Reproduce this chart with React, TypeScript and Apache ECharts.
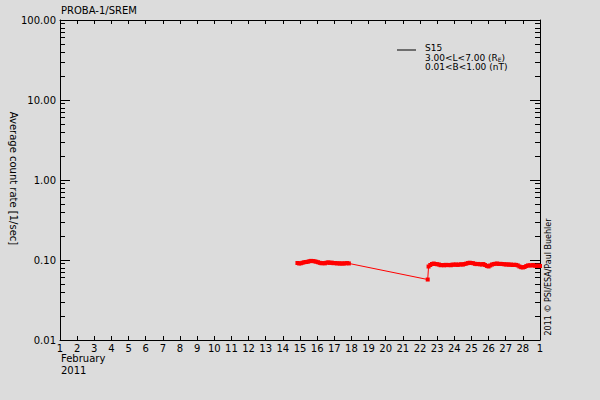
import React, { useEffect, useRef } from 'react'
import * as echarts from 'echarts'

const chartTitle = 'PROBA-1/SREM'
const yAxisTitle = 'Average count rate [1/sec]'
const monthLabel = 'February'
const yearLabel = '2011'
const creditLabel = '2011 © PSI/ESA/Paul Buehler'
const legendLabels = ['S15', '3.00<L<7.00 (R{sub|E})', '0.01<B<1.00 (nT)']

// x axis: days of February 2011, 1 .. 29 (= 1 March)
const dayMin = 1
const dayMax = 29
// y axis: log scale
const rateMin = 0.01
const rateMax = 100
const minorTickFactors = [2, 3, 4, 5, 6, 7, 8, 9]
const decadeExponents = [-2, -1, 0, 1]

// first pass (day of month, fractional)
const firstPassDays = [
  14.85, 14.95, 15.05, 15.15, 15.25, 15.35, 15.45, 15.55, 15.65, 15.75, 15.85,
  15.95, 16.05, 16.15, 16.25, 16.35, 16.45, 16.55, 16.65, 16.75, 16.85, 16.95,
  17.05, 17.15, 17.25, 17.35, 17.45, 17.55, 17.65, 17.75, 17.85,
]
const firstPassRates = [
  0.0917, 0.0904, 0.091, 0.0925, 0.0938, 0.0944, 0.0951, 0.0965, 0.0975, 0.097, 0.0962,
  0.0952, 0.0938, 0.0922, 0.091, 0.0915, 0.0908, 0.0925, 0.0935, 0.092, 0.0928, 0.0912,
  0.0918, 0.0905, 0.0912, 0.09, 0.0908, 0.0902, 0.091, 0.0915, 0.0906,
]

// second pass
const secondPassDays = [
  22.45, 22.5, 22.6, 22.7, 22.8, 22.9, 23.0, 23.1, 23.2, 23.3, 23.4, 23.5, 23.6,
  23.7, 23.8, 23.9, 24.0, 24.1, 24.2, 24.3, 24.4, 24.5, 24.6, 24.7, 24.8, 24.9,
  25.0, 25.1, 25.2, 25.3, 25.4, 25.5, 25.6, 25.7, 25.8, 25.9, 26.0, 26.1, 26.2,
  26.3, 26.4, 26.5, 26.6, 26.7, 26.8, 26.9, 27.0, 27.1, 27.2, 27.3, 27.4, 27.5,
  27.6, 27.7, 27.8, 27.9, 28.0, 28.1, 28.2, 28.3, 28.4, 28.5, 28.6, 28.7, 28.8,
  28.9, 29.0,
]
const secondPassRates = [
  0.057, 0.0829, 0.0866, 0.0891, 0.0904, 0.0891, 0.0885, 0.0879, 0.086, 0.0866, 0.0858, 0.087, 0.0862,
  0.0868, 0.086, 0.0877, 0.0872, 0.088, 0.0868, 0.0878, 0.0884, 0.0876, 0.089, 0.0902, 0.0915, 0.0925,
  0.0917, 0.0912, 0.0896, 0.0888, 0.0893, 0.0884, 0.0878, 0.089, 0.0866, 0.0843, 0.083, 0.0855, 0.0878,
  0.089, 0.0898, 0.0904, 0.0892, 0.0896, 0.089, 0.0886, 0.0878, 0.0883, 0.0872, 0.0879, 0.0866, 0.0873,
  0.0868, 0.0856, 0.083, 0.0813, 0.0807, 0.0818, 0.084, 0.0855, 0.0858, 0.0854, 0.0866, 0.0848, 0.0842,
  0.0853, 0.0842,
]

const FONT = 'DejaVu Sans'
const BG = '#dcdcdc'

// fresh style objects for every axis
const axisLine = () => ({ show: true, onZero: false, lineStyle: { color: '#000', width: 1 } })
const tickLine = () => ({ color: '#000', width: 1 })
const labelStyle = () => ({ color: '#000', fontFamily: FONT, fontSize: 10 })

export default function App() {
  const chartRef = useRef<HTMLDivElement>(null)

  useEffect(() => {
    if (!chartRef.current) return
    const chart = echarts.init(chartRef.current, null, { renderer: 'svg' })

    const seriesData = [
      ...firstPassDays.map((d, i) => [d, firstPassRates[i]]),
      ...secondPassDays.map((d, i) => [d, secondPassRates[i]]),
    ]

    // log-distributed minor ticks (2..9 in each decade)
    const minorTicks = decadeExponents.flatMap(e => minorTickFactors.map(f => f * Math.pow(10, e)))

    const majorLogAxis = (position: 'left' | 'right', showLabels: boolean) => ({
      type: 'log',
      logBase: 10,
      position,
      min: rateMin,
      max: rateMax,
      axisLine: axisLine(),
      axisTick: { show: true, inside: true, length: 10, lineStyle: tickLine() },
      axisLabel: showLabels
        ? { ...labelStyle(), margin: 4, formatter: (v: number) => Number(v).toFixed(2) }
        : { show: false },
      splitLine: { show: false },
    })

    const minorLogAxis = (position: 'left' | 'right') => ({
      type: 'log',
      logBase: 10,
      position,
      min: rateMin,
      max: rateMax,
      axisLine: { show: false },
      axisTick: { show: true, inside: true, length: 5, customValues: minorTicks, lineStyle: tickLine() },
      axisLabel: { show: false },
      splitLine: { show: false },
    })

    const dayAxis = (position: 'bottom' | 'top', showLabels: boolean) => ({
      type: 'value',
      position,
      min: dayMin,
      max: dayMax,
      interval: 1,
      axisLine: axisLine(),
      axisTick: { show: true, inside: true, length: 4, lineStyle: tickLine() },
      axisLabel: showLabels
        ? {
            ...labelStyle(),
            margin: 3,
            formatter: (v: number) => (v === dayMax ? '1' : String(v)),
          }
        : { show: false },
      splitLine: { show: false },
    })

    chart.setOption({
      animation: false,
      backgroundColor: BG,
      grid: { left: 60, right: 60, top: 20, bottom: 60, containLabel: false, outerBoundsMode: 'none' },
      xAxis: [dayAxis('bottom', true), dayAxis('top', false)],
      yAxis: [
        majorLogAxis('left', true),
        minorLogAxis('left'),
        majorLogAxis('right', false),
        minorLogAxis('right'),
      ],
      series: [
        {
          type: 'line',
          xAxisIndex: 0,
          yAxisIndex: 0,
          data: seriesData,
          showSymbol: true,
          symbol: 'rect',
          symbolSize: 4,
          itemStyle: { color: '#ff0000' },
          lineStyle: { color: '#ff0000', width: 1 },
        },
      ],
      graphic: [
        {
          type: 'text',
          left: 61,
          top: 5,
          style: { text: chartTitle, fill: '#000', font: `10px "${FONT}"` },
        },
        {
          // y axis title, reading top to bottom
          type: 'text',
          x: 13.5,
          y: 178.5,
          rotation: -Math.PI / 2,
          style: {
            text: yAxisTitle,
            fill: '#000',
            font: `10px "${FONT}"`,
            align: 'center',
            verticalAlign: 'middle',
          },
        },
        {
          type: 'line',
          shape: { x1: 397, y1: 50, x2: 416, y2: 50 },
          style: { stroke: '#000', lineWidth: 1 },
        },
        ...legendLabels.map((t, i) => ({
          type: 'text',
          x: 425,
          y: 43.5 + i * 9.5,
          style: {
            text: t,
            fill: '#000',
            font: `9px "${FONT}"`,
            lineHeight: 9,
            verticalAlign: 'top',
            rich: {
              sub: { fontSize: 6, fontFamily: FONT, fill: '#000', lineHeight: 9, padding: [3, 0, 0, 0] },
            },
          },
        })),
        {
          type: 'text',
          x: 61,
          y: 353,
          style: { text: monthLabel, fill: '#000', font: `10px "${FONT}"`, verticalAlign: 'top' },
        },
        {
          type: 'text',
          x: 61,
          y: 365,
          style: { text: yearLabel, fill: '#000', font: `10px "${FONT}"`, verticalAlign: 'top' },
        },
        {
          type: 'text',
          x: 548,
          y: 277,
          rotation: Math.PI / 2,
          style: {
            text: creditLabel,
            fill: '#000',
            font: `8px "${FONT}"`,
            align: 'center',
            verticalAlign: 'middle',
          },
        },
      ],
    })

    return () => chart.dispose()
  }, [])

  return (
    <div
      ref={chartRef}
      style={{ position: 'fixed', left: 0, top: 0, width: 600, height: 400, background: BG }}
    />
  )
}
